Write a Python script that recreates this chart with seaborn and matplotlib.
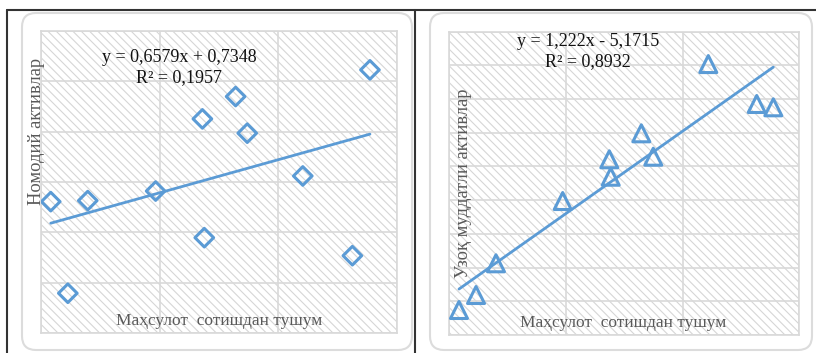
import numpy as np
import matplotlib
matplotlib.use('Agg')
import matplotlib.pyplot as plt
import seaborn as sns
from matplotlib.patches import Rectangle, FancyBboxPatch
from matplotlib.lines import Line2D
from matplotlib.transforms import IdentityTransform

# left chart: sales revenue vs intangible assets
x_left = [0.541, 0.613, 0.697, 0.983, 1.180, 1.188, 1.320, 1.369, 1.603, 1.812, 1.886]
y_left = [1.305, 0.395, 1.315, 1.410, 2.127, 0.947, 2.349, 1.985, 1.560, 0.768, 2.614]
trend_left = [0.6579, 0.7348]
eq_left = ['y = 0,6579x + 0,7348', 'R² = 0,1957']

# right chart: sales revenue vs long-term assets
x_right = [6.166, 6.458, 6.800, 7.944, 8.743, 8.767, 9.292, 9.497, 10.44, 11.27, 11.555]
y_right = [1.742, 2.187, 3.128, 4.976, 6.214, 5.697, 6.985, 6.291, 9.040, 7.855, 7.757]
trend_right = [1.222, -5.1715]
eq_right = ['y = 1,222x - 5,1715', 'R² = 0,8932']

x_label = 'Маҳсулот  сотишдан тушум'
y_label_left = 'Номодий активлар'
y_label_right = 'Узоқ муддатли активлар'

blue = '#5b9bd5'
grid_c = '#d9d9d9'

sns.set_style('white')
plt.rcParams['font.family'] = ['Liberation Serif', 'DejaVu Serif']
plt.rcParams['hatch.linewidth'] = 0.8

fig = plt.figure(figsize=(8.16, 3.53), dpi=100)

# rounded chart boxes (pixel coords), kept behind the axes
for x0, x1 in [(22, 412), (430, 812)]:
    box = FancyBboxPatch((x0, 3), x1 - x0, 337, boxstyle='round,pad=0,rounding_size=14',
                         transform=IdentityTransform(), facecolor='white',
                         edgecolor='#dcdcdc', lw=1.5, zorder=-5)
    fig.add_artist(box)

# table frame lines
W, H = 816, 353
fig.add_artist(Line2D([7 / W, 1], [1 - 10 / H, 1 - 10 / H], transform=fig.transFigure, color='#333333', lw=1.5))
fig.add_artist(Line2D([7 / W, 7 / W], [0, 1 - 10 / H], transform=fig.transFigure, color='#333333', lw=1.5))
fig.add_artist(Line2D([415 / W, 415 / W], [0, 1 - 10 / H], transform=fig.transFigure, color='#333333', lw=1.5))

ax1 = fig.add_axes([41 / W, 1 - 333 / H, 356 / W, 302 / H])
ax2 = fig.add_axes([449.3 / W, 1 - 335 / H, 350 / W, 303.3 / H])


def style_axes(ax, xlim, xstep, ylim, ystep):
    ax.set_xlim(*xlim)
    ax.set_ylim(*ylim)
    ax.set_xticks(np.arange(xlim[0], xlim[1] + 0.001, xstep))
    ax.set_yticks(np.arange(ylim[0], ylim[1] + 0.001, ystep))
    ax.tick_params(length=0, labelleft=False, labelbottom=False)
    ax.grid(True, color=grid_c, lw=1.2)
    ax.set_axisbelow(True)
    for s in ax.spines.values():
        s.set_color(grid_c)
        s.set_linewidth(1.2)
    ax.add_patch(Rectangle((0, 0), 1, 1, transform=ax.transAxes, fill=False,
                           hatch='\\\\\\\\', edgecolor='#d6d6d6', lw=0, zorder=0))
    ax.set_xlabel('')
    ax.set_ylabel('')


# left chart
sns.scatterplot(x=x_left, y=y_left, marker='D', s=90, facecolor='none',
                edgecolor=blue, linewidth=2.2, ax=ax1, zorder=3)
xl = np.array([min(x_left), max(x_left)])
sns.lineplot(x=xl, y=trend_left[0] * xl + trend_left[1], color=blue, lw=2, ax=ax1, zorder=2)
style_axes(ax1, (0.5, 2.0), 0.5, (0, 3), 0.5)

# right chart
sns.scatterplot(x=x_right, y=y_right, marker='^', s=150, facecolor='none',
                edgecolor=blue, linewidth=2.2, ax=ax2, zorder=3)
xr = np.array([min(x_right), max(x_right)])
sns.lineplot(x=xr, y=trend_right[0] * xr + trend_right[1], color=blue, lw=2, ax=ax2, zorder=2)
style_axes(ax2, (6, 12), 2, (1, 10), 1)

# texts (pixel positions converted to figure fraction)
def ftext(px, py, s, **kw):
    fig.text(px / W, 1 - py / H, s, ha='center', va='center', **kw)

ftext(179, 58, eq_left[0], fontsize=13, color='#111111')
ftext(179, 78, eq_left[1], fontsize=13, color='#111111')
ftext(588, 42, eq_right[0], fontsize=13, color='#111111')
ftext(588, 62, eq_right[1], fontsize=13, color='#111111')

ftext(219, 321, x_label, fontsize=12.5, color='#595959')
ftext(623, 323, x_label, fontsize=12.5, color='#595959')
ftext(37, 131, y_label_left, fontsize=13.3, color='#595959', rotation=90)
ftext(463, 183, y_label_right, fontsize=13.3, color='#595959', rotation=90)

fig.savefig('out.png', dpi=100)
